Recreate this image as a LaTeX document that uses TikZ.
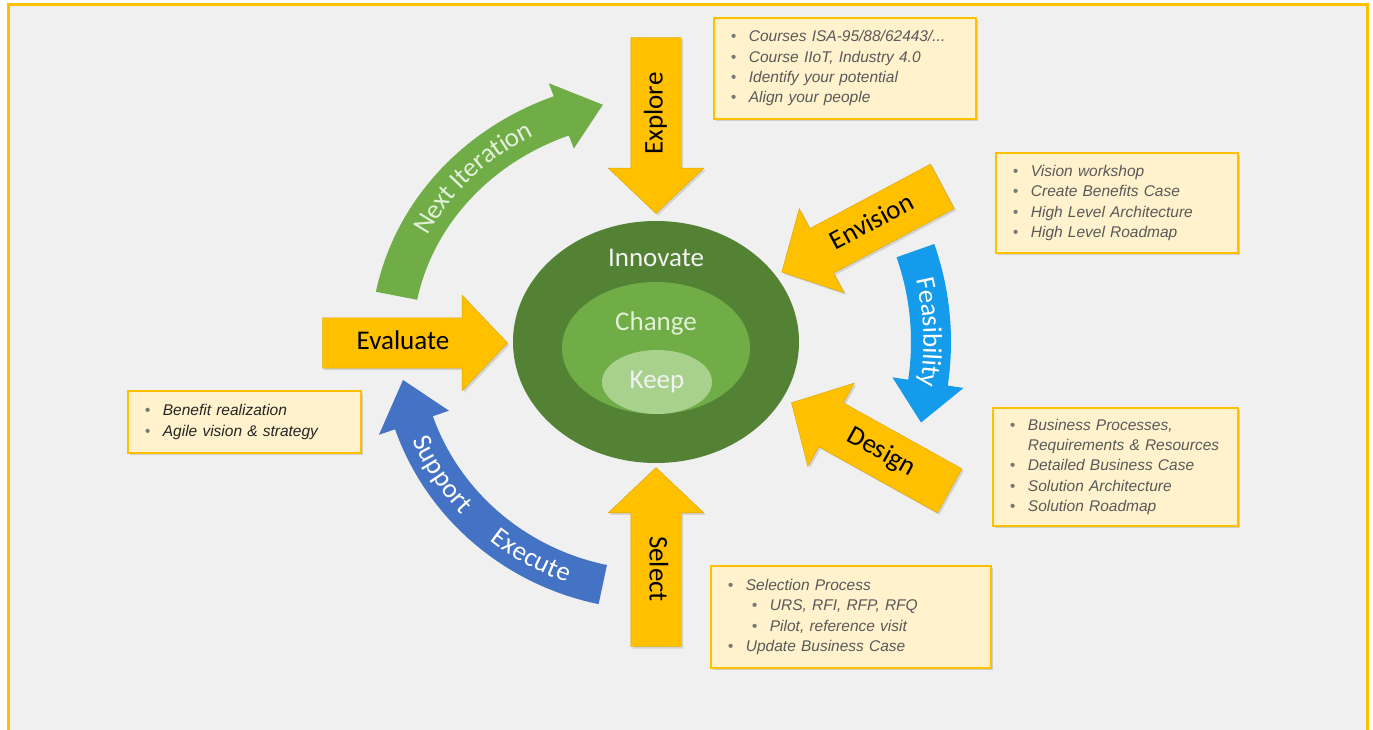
\documentclass[tikz,border=0pt]{standalone}
\usepackage{fontspec}
\setmainfont{Carlito}
\newfontfamily\boxfont{Liberation Sans}
\usetikzlibrary{shapes.arrows,shadows,decorations.text}

\definecolor{bggray}{RGB}{240,240,240}
\definecolor{amber}{RGB}{255,192,0}
\definecolor{boxfill}{RGB}{255,242,204}
\definecolor{outergreen}{RGB}{84,130,53}
\definecolor{midgreen}{RGB}{112,173,71}
\definecolor{innergreen}{RGB}{169,209,142}
\definecolor{skyblue}{RGB}{20,155,235}
\definecolor{royalblue}{RGB}{68,114,196}
\definecolor{textgray}{RGB}{89,89,89}
\definecolor{bulgray}{RGB}{120,120,120}
\definecolor{paletext}{RGB}{226,240,217}

\newcommand{\bigfont}{\fontsize{27}{30}\selectfont}
\newcommand{\bul}{\makebox[18pt][l]{\color{bulgray}\textbullet}}

\begin{document}
\begin{tikzpicture}[x=1pt,y=1pt,
	bigarrow/.style={single arrow, shape border rotate=180, fill=amber, draw=amber!85!black,
		line width=0.4pt, single arrow head extend=22.5pt, single arrow tip angle=93,
		text height=19pt, text depth=6pt, inner ysep=12.5pt, inner xsep=0pt,
		font=\bigfont, text=black,
		drop shadow={shadow xshift=2pt, shadow yshift=-2pt, opacity=0.25}},
	infobox/.style={draw=amber, line width=1.8pt, fill=boxfill, anchor=north west,
		inner xsep=17pt, inner ysep=0pt, align=left, text=textgray,
		font=\boxfont\itshape\fontsize{15.5}{20.3}\selectfont,
		drop shadow={shadow xshift=2pt, shadow yshift=-2pt, opacity=0.3}},
	arctext/.style={decorate, decoration={text along path, text align=center, raise=-7.5pt}}]
	
	\useasboundingbox (0,0) rectangle (1373,729);
	\fill[white] (0,0) rectangle (1373,729);
	\fill[bggray] (8,-5) rectangle (1367,724);
	\draw[amber, line width=3pt] (8,-5)--(8,724)--(1367,724)--(1367,-5);
	
	\begin{scope}[shift={(656,387)}]
	\fill[midgreen] (169:285.3 and 263.2) arc[start angle=169, end angle=111, x radius=285.3, y radius=263.2]
	--(111:299.3 and 277.2)--(101.6:264.3 and 242.2)--(111:229.3 and 207.2)
	--(111:243.3 and 221.2) arc[start angle=111, end angle=169, x radius=243.3, y radius=221.2]--cycle;
	\fill[skyblue] (19.4:295) arc[start angle=19.4, end angle=-8.5, radius=295]
	--(-8.5:311)--(-16.9:277)--(-8.5:239)
	--(-8.5:255) arc[start angle=-8.5, end angle=19.4, radius=255]--cycle;
	\fill[royalblue] (258:276 and 268) arc[start angle=258, end angle=199, x radius=276, y radius=268]
	--(199:293 and 285)--(188.8:256 and 248)--(199:219 and 211)
	--(199:236 and 228) arc[start angle=199, end angle=258, x radius=236, y radius=228]--cycle;
	
	\path[arctext, decoration={text={|\bigfont\color{paletext}|Next Iteration}}]
	(166:264 and 242) arc[start angle=166, end angle=106, x radius=264, y radius=242];
	\path[arctext, decoration={text={|\bigfont\color{white}|Feasibility}}]
	(24:275) arc[start angle=24, end angle=-20, radius=275];
	\path[arctext, decoration={text={|\bigfont\color{white}|Support}}]
	(198:256 and 248) arc[start angle=198, end angle=227, x radius=256, y radius=248];
	\path[arctext, decoration={text={|\bigfont\color{white}|Execute}}]
	(226:256 and 248) arc[start angle=226, end angle=255, x radius=256, y radius=248];
	\end{scope}
	
	\fill[outergreen] (656,387) ellipse [x radius=143, y radius=121];
	\fill[midgreen] (656,381) ellipse [x radius=94, y radius=66];
	\fill[innergreen] (657,347) ellipse [x radius=55, y radius=32];
	\node[font=\bigfont, text=white!95!black] (innovate) at (656,471) {Innovate};
	\node[font=\bigfont, text=paletext] (change) at (656,406) {Change};
	\node[font=\bigfont, text=white!95!black] (keep) at (657,347) {Keep};
	
	\node[bigarrow, rotate=90, minimum height=176pt] (explore) at (656,615.5) {Explore};
	\node[bigarrow, rotate=-90, minimum height=179pt] (select) at (656,160) {Select};
	\node[bigarrow, shape border rotate=0, minimum height=185pt] (evaluate) at (403,386) {Evaluate};
	\node[bigarrow, rotate=28.1, minimum height=182pt] (envision) at (872.6,505.4) {Envision};
	\node[bigarrow, rotate=-29.1, minimum height=181pt] (design) at (881,276.4) {Design};
	
	\node[infobox, text width=228pt, minimum height=101pt] (explorebox) at (713,712) {%
		\bul Courses ISA-95/88/62443/...\\
		\bul Course IIoT, Industry 4.0\\
		\bul Identify your potential\\
		\bul Align your people};
	\node[infobox, text width=208pt, minimum height=100pt] (envisionbox) at (995,577) {%
		\bul Vision workshop\\
		\bul Create Benefits Case\\
		\bul High Level Architecture\\
		\bul High Level Roadmap};
	\node[infobox, text width=211pt, minimum height=118pt] (designbox) at (992,322) {%
		\bul Business Processes,\\
		\hspace*{18pt}Requirements \& Resources\\
		\bul Detailed Business Case\\
		\bul Solution Architecture\\
		\bul Solution Roadmap};
	\node[infobox, text width=246pt, minimum height=102pt] (selectbox) at (710,164) {%
		\bul Selection Process\\
		\hspace*{24pt}\bul URS, RFI, RFP, RFQ\\
		\hspace*{24pt}\bul Pilot, reference visit\\
		\bul Update Business Case};
	\node[infobox, text width=199pt, minimum height=62pt, text=black!85] (evaluatebox) at (127,339) {%
		\bul Benefit realization\\
		\bul Agile vision \& strategy};
	
\end{tikzpicture}
\end{document}
